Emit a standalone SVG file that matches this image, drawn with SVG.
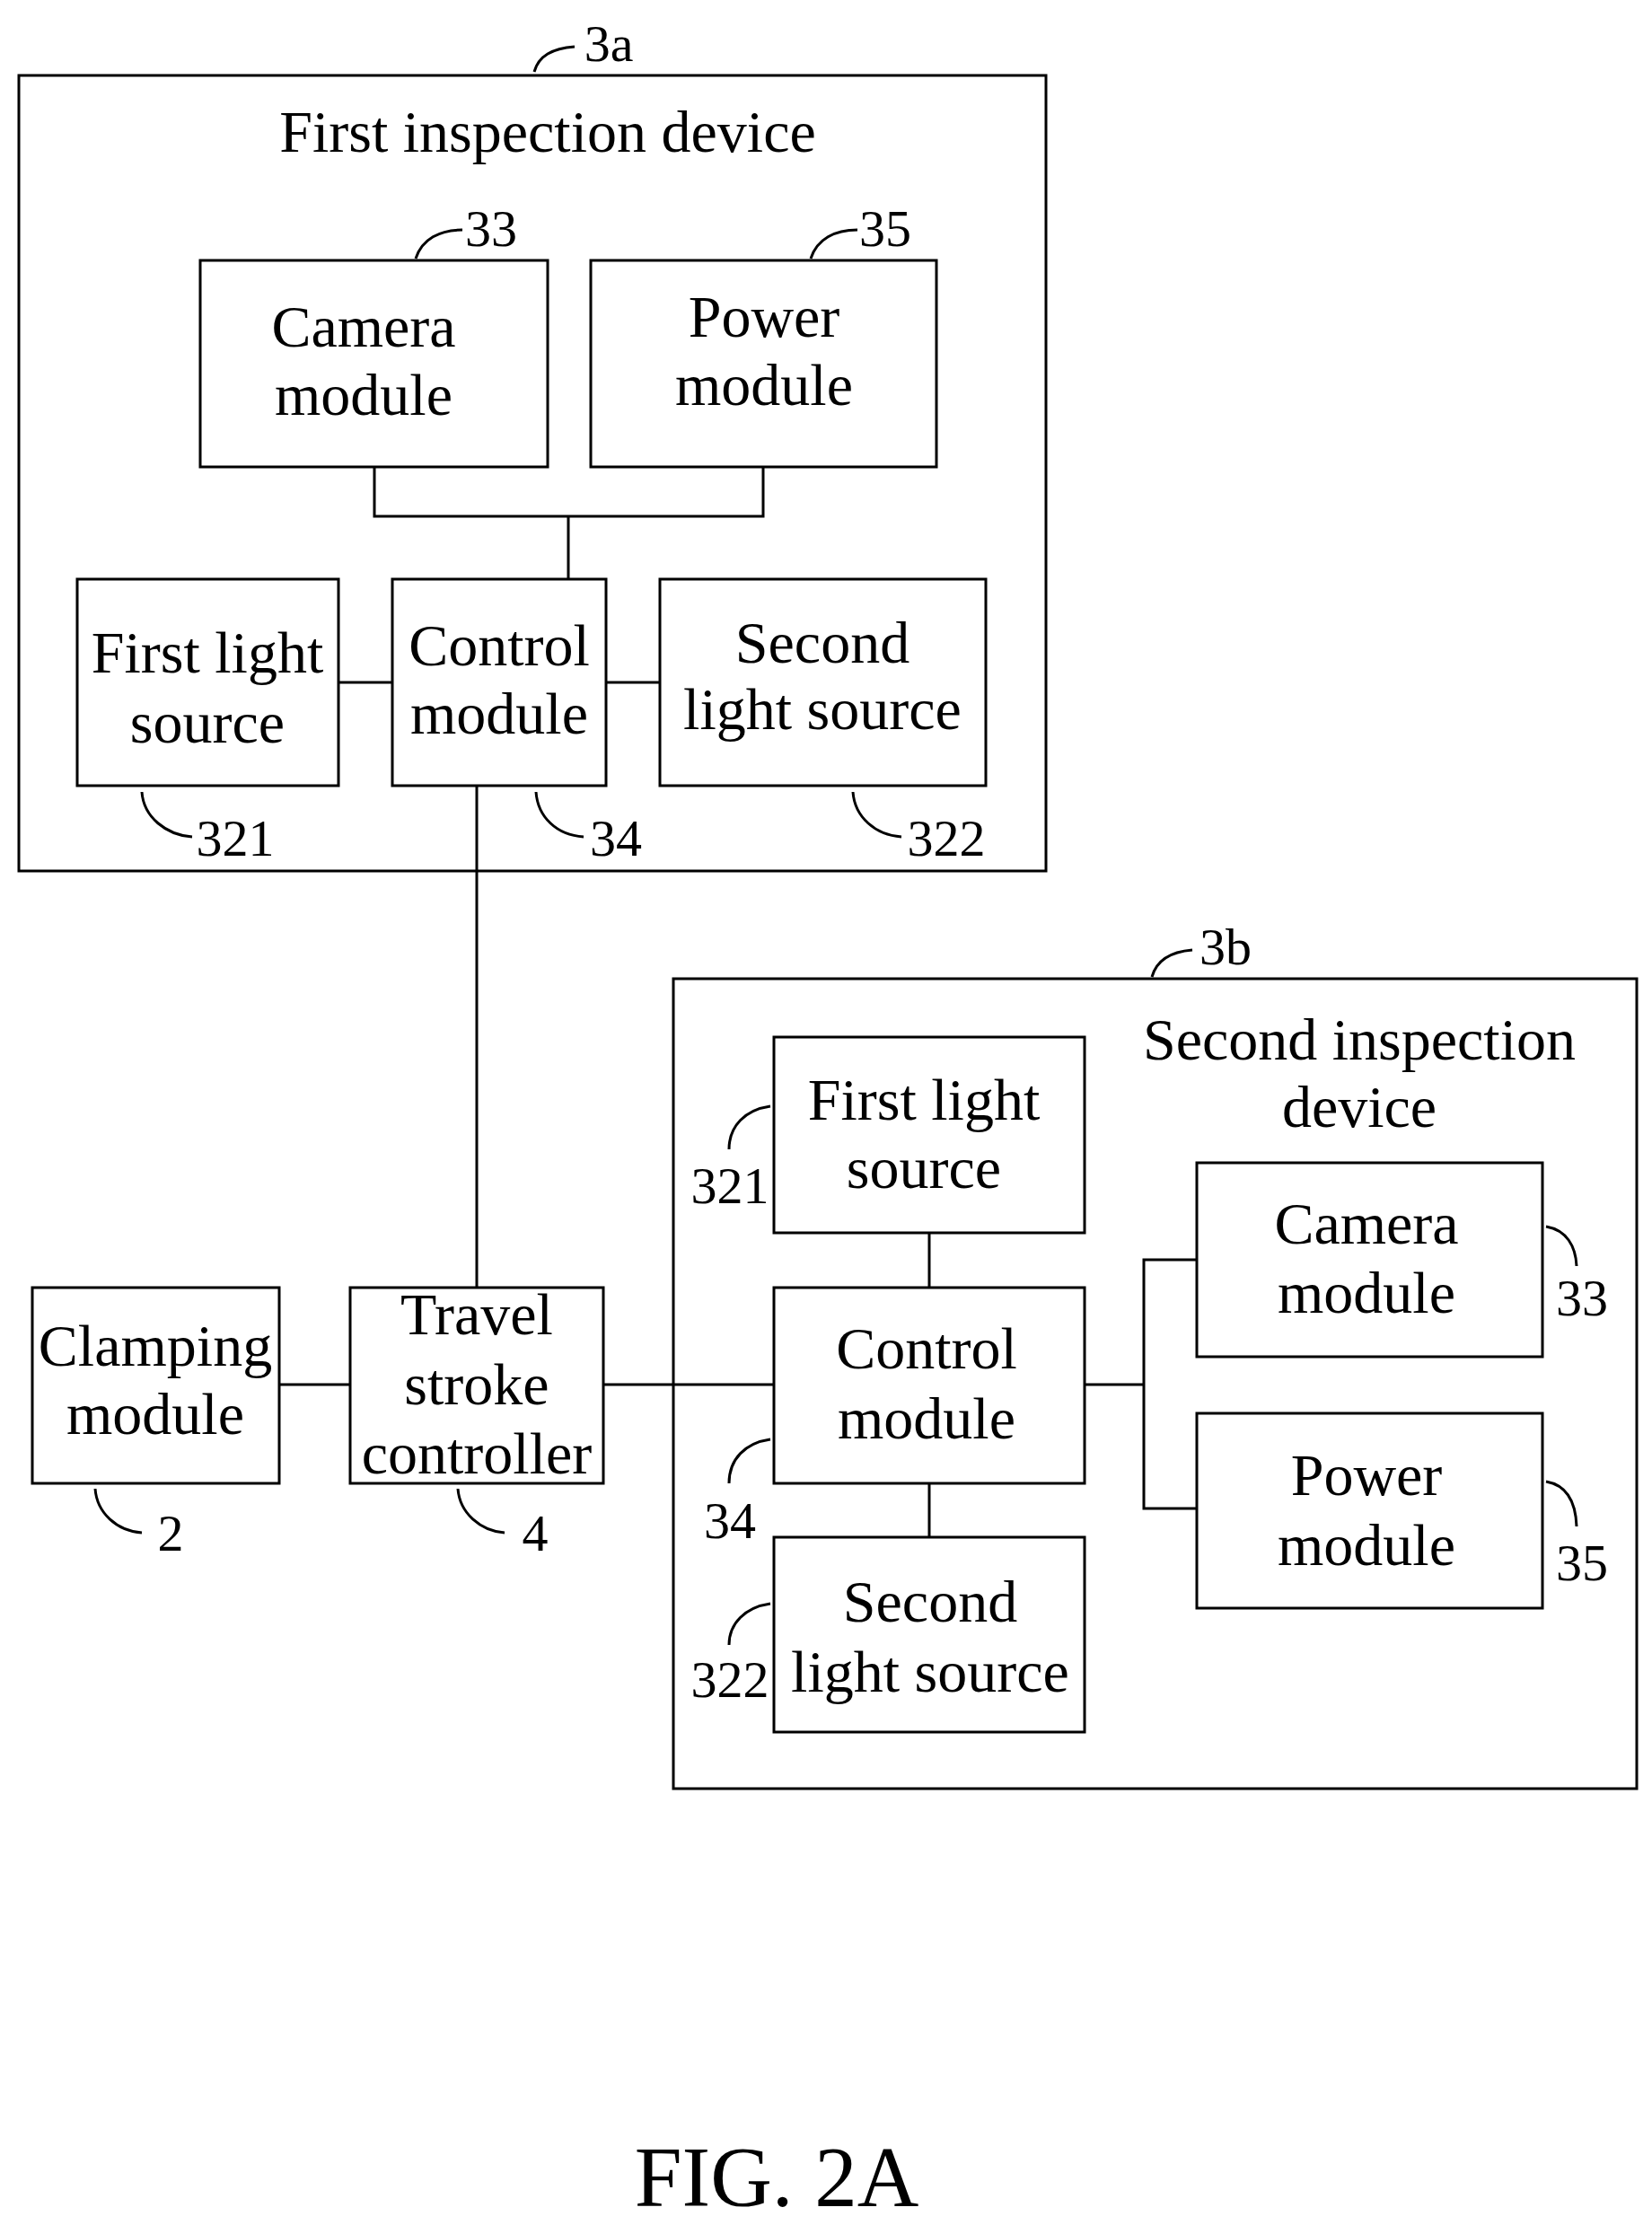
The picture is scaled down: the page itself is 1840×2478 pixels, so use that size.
<svg xmlns="http://www.w3.org/2000/svg" width="1840" height="2478" viewBox="0 0 1840 2478">
<style>
rect{fill:none;stroke:#000;stroke-width:3}
.c path,.c line,.l{fill:none;stroke:#000;stroke-width:3}
text{font-family:"Liberation Serif",serif;font-size:66px;text-anchor:middle;dominant-baseline:central;fill:#000}
.n{font-size:58px}
</style>
<rect x="0" y="0" width="1840" height="2478" fill="#fff" stroke="none" style="fill:#fff;stroke:none"/>
<g id="dev3a"><rect x="21" y="84" width="1144" height="886"/><text x="610" y="146">First inspection device</text><path class="l" d="M595,80 C600,62 615,54 640,52"/><text class="n" x="678" y="48">3a</text></g>
<g id="cam3a"><rect x="223" y="290" width="387" height="230"/><text x="405" y="363">Camera</text><text x="405" y="439">module</text><path class="l" d="M463,288 C470,266 490,256 515,256"/><text class="n" x="547" y="254">33</text></g>
<g id="pow3a"><rect x="658" y="290" width="385" height="230"/><text x="851" y="352">Power</text><text x="851" y="428">module</text><path class="l" d="M903,288 C910,266 930,256 955,256"/><text class="n" x="986" y="254">35</text></g>
<g id="fl3a"><rect x="86" y="645" width="291" height="230"/><text x="231" y="726">First light</text><text x="231" y="804">source</text><path class="l" d="M158,882 C160,910 185,930 214,932"/><text class="n" x="262" y="933">321</text></g>
<g id="ctl3a"><rect x="437" y="645" width="238" height="230"/><text x="556" y="718">Control</text><text x="556" y="794">module</text><path class="l" d="M597,882 C599,910 620,930 650,932"/><text class="n" x="686" y="933">34</text></g>
<g id="sl3a"><rect x="735" y="645" width="363" height="230"/><text x="916" y="715">Second</text><text x="916" y="789">light source</text><path class="l" d="M950,882 C952,910 975,930 1004,932"/><text class="n" x="1054" y="933">322</text></g>
<g id="clamp"><rect x="36" y="1434" width="275" height="218"/><text x="173" y="1498">Clamping</text><text x="173" y="1574">module</text><path class="l" d="M106,1658 C108,1685 130,1705 158,1707"/><text class="n" x="190" y="1707">2</text></g>
<g id="travel"><rect x="390" y="1434" width="282" height="218"/><text x="531" y="1463">Travel</text><text x="531" y="1541">stroke</text><text x="531" y="1618">controller</text><path class="l" d="M510,1658 C512,1685 535,1705 562,1707"/><text class="n" x="596" y="1707">4</text></g>
<g id="dev3b"><rect x="750" y="1090" width="1073" height="902"/><text x="1514" y="1157">Second inspection</text><text x="1514" y="1232">device</text><path class="l" d="M1283,1088 C1288,1070 1303,1060 1328,1058"/><text class="n" x="1365" y="1054">3b</text></g>
<g id="fl3b"><rect x="862" y="1155" width="346" height="218"/><text x="1029" y="1224">First light</text><text x="1029" y="1300">source</text><path class="l" d="M858,1232 C830,1236 812,1254 812,1280"/><text class="n" x="813" y="1320">321</text></g>
<g id="ctl3b"><rect x="862" y="1434" width="346" height="218"/><text x="1032" y="1501">Control</text><text x="1032" y="1579">module</text><path class="l" d="M858,1603 C830,1607 812,1625 812,1652"/><text class="n" x="813" y="1693">34</text></g>
<g id="sl3b"><rect x="862" y="1712" width="346" height="217"/><text x="1036" y="1783">Second</text><text x="1036" y="1861">light source</text><path class="l" d="M858,1786 C830,1790 812,1808 812,1832"/><text class="n" x="813" y="1870">322</text></g>
<g id="cam3b"><rect x="1333" y="1295" width="385" height="216"/><text x="1522" y="1362">Camera</text><text x="1522" y="1439">module</text><path class="l" d="M1722,1366 C1745,1370 1755,1388 1756,1410"/><text class="n" x="1762" y="1445">33</text></g>
<g id="pow3b"><rect x="1333" y="1574" width="385" height="217"/><text x="1522" y="1642">Power</text><text x="1522" y="1720">module</text><path class="l" d="M1722,1650 C1745,1654 1755,1672 1756,1700"/><text class="n" x="1762" y="1740">35</text></g>
<g class="c" id="connectors">
<path d="M417,520 V575 H850 V520"/><line x1="633" y1="575" x2="633" y2="645"/>
<line x1="377" y1="760" x2="437" y2="760"/><line x1="675" y1="760" x2="735" y2="760"/>
<line x1="531" y1="875" x2="531" y2="1434"/>
<line x1="311" y1="1542" x2="390" y2="1542"/><line x1="672" y1="1542" x2="862" y2="1542"/>
<line x1="1035" y1="1373" x2="1035" y2="1434"/><line x1="1035" y1="1652" x2="1035" y2="1712"/>
<path d="M1208,1542 H1274"/><path d="M1333,1403 H1274 V1680 H1333"/>
</g>
<text x="865" y="2425" style="font-size:95px">FIG. 2A</text>
</svg>
